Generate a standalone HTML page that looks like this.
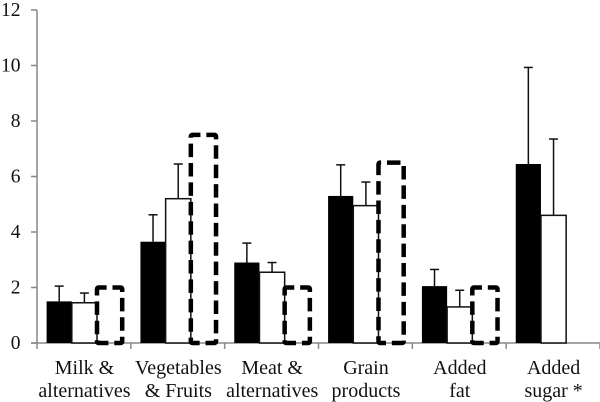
<!DOCTYPE html>
<html>
<head>
<meta charset="utf-8">
<style>
html,body{margin:0;padding:0;background:#fff;}
svg{display:block;}
text{font-family:"Liberation Serif",serif;font-size:19.5px;fill:#111;}
text.category{font-size:20px;}
</style>
</head>
<body>
<svg id="chart" width="600" height="402" viewBox="0 0 600 402" xmlns="http://www.w3.org/2000/svg"></svg>
<script>
const categoryLines = [["Milk &","alternatives"],["Vegetables","& Fruits"],["Meat &","alternatives"],["Grain","products"],["Added","fat"],["Added","sugar *"]];
const blackValues = [1.5,3.65,2.9,5.3,2.05,6.45];
const blackErrorTops = [2.05,4.62,3.6,6.42,2.65,9.93];
const whiteValues = [1.45,5.2,2.55,4.95,1.3,4.6];
const whiteErrorTops = [1.8,6.45,2.9,5.8,1.9,7.35];
const targetValues = [2,7.5,2,6.5,2,null];
const yTicks = [0,2,4,6,8,10,12];

const svg = document.getElementById('chart');
const NS = 'http://www.w3.org/2000/svg';
const yScale = v => 343 - v * 27.75;
const groupX = i => 37 + i * 93.83;
const barX = (i, s) => groupX(i) + 9.6 + s * 25.2;
const BAR_W = 25.2;

function make(tag, attrs, name) {
  const el = document.createElementNS(NS, tag);
  for (const k in attrs) el.setAttribute(k, attrs[k]);
  
  
  svg.appendChild(el);
  return el;
}

function errorBar(cx, value, top, name) {
  make('line', {x1:cx, x2:cx, y1:yScale(value), y2:yScale(top), stroke:'#111', 'stroke-width':1.5}, name);
  make('line', {x1:cx-4.5, x2:cx+4.5, y1:yScale(top), y2:yScale(top), stroke:'#111', 'stroke-width':1.5}, name + '-cap');
}

make('line', {x1:37, x2:37, y1:yScale(12), y2:349, stroke:'#888', 'stroke-width':1.5}, 'y-axis');
make('line', {x1:31, x2:600, y1:343, y2:343, stroke:'#888', 'stroke-width':1.5}, 'x-axis');

yTicks.forEach(t => {
  make('line', {x1:31, x2:37, y1:yScale(t), y2:yScale(t), stroke:'#888', 'stroke-width':1.5}, 'y-tick-' + t);
  const label = make('text', {x:20.5, y:yScale(t) + 6, 'text-anchor':'end'}, 'y-tick-label-' + t);
  label.textContent = t;
});

categoryLines.forEach((lines, i) => {
  make('line', {x1:groupX(i+1), x2:groupX(i+1), y1:343, y2:349, stroke:'#888', 'stroke-width':1.5}, 'x-tick-' + (i+1));
  lines.forEach((line, j) => {
    const label = make('text', {x:groupX(i) + 47.5, y:374 + j * 23, 'text-anchor':'middle', class:'category'}, 'category-label-' + (i+1) + '-line-' + (j+1));
    label.textContent = line;
  });
});

blackValues.forEach((v, i) => {
  errorBar(barX(i,0) + BAR_W/2, v, blackErrorTops[i], 'black-error-bar-' + (i+1));
  make('rect', {x:barX(i,0), y:yScale(v), width:BAR_W, height:343 - yScale(v), fill:'#000'}, 'black-bar-' + (i+1));
});

whiteValues.forEach((v, i) => {
  errorBar(barX(i,1) + BAR_W/2, v, whiteErrorTops[i], 'white-error-bar-' + (i+1));
  make('rect', {x:barX(i,1), y:yScale(v), width:BAR_W, height:343 - yScale(v), fill:'#fff', stroke:'#111', 'stroke-width':1.5}, 'white-bar-' + (i+1));
});

targetValues.forEach((v, i) => {
  if (v === null) return;
  make('rect', {x:barX(i,2), y:yScale(v), width:BAR_W, height:343 - yScale(v), rx:1.5, fill:'none', stroke:'#000', 'stroke-width':4.5, 'stroke-dasharray':'13.5 5.9', 'stroke-dashoffset': i === 3 ? 12.4 : 5.4}, 'dashed-target-bar-' + (i+1));
});
</script>
</body>
</html>
